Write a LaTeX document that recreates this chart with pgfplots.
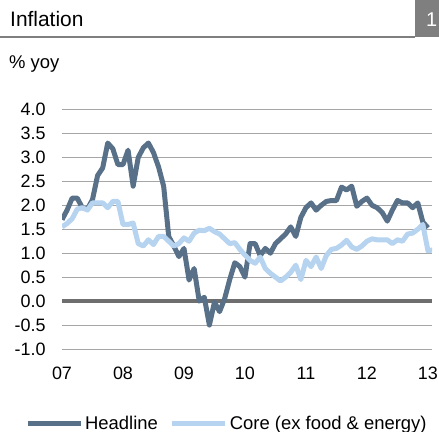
\documentclass[border=0pt]{standalone}
\usepackage{pgfplots}
\pgfplotsset{compat=1.18}
\usepackage{pgfplotstable}
\usepackage{fontspec}
\setmainfont{Liberation Sans}
\definecolor{headc}{HTML}{587088}
\definecolor{corec}{HTML}{B6D3F0}
\definecolor{gridc}{HTML}{A6A6A6}
\definecolor{zeroc}{HTML}{6E6E6E}
\definecolor{boxc}{HTML}{7F7F7F}

\pgfplotstableread{
m v
0 1.70
1 1.90
2 2.15
3 2.15
4 1.95
5 1.92
6 2.12
7 2.62
8 2.78
9 3.30
10 3.18
11 2.85
12 2.85
13 3.15
14 2.40
15 3.00
16 3.20
17 3.30
18 3.10
19 2.80
20 2.40
21 1.35
22 1.15
23 0.93
24 1.10
25 0.44
26 0.68
27 0.00
28 0.08
29 -0.50
30 -0.02
31 -0.22
32 0.05
33 0.45
34 0.80
35 0.72
36 0.50
37 1.20
38 1.20
39 0.95
40 1.10
41 1.00
42 1.20
43 1.30
44 1.40
45 1.55
46 1.35
47 1.75
48 1.95
49 2.05
50 1.90
51 2.00
52 2.08
53 2.10
54 2.10
55 2.38
56 2.32
57 2.40
58 1.98
59 2.08
60 2.15
61 2.00
62 1.95
63 1.85
64 1.67
65 1.90
66 2.10
67 2.05
68 2.05
69 1.95
70 2.05
71 1.65
72 1.53
}\headline

\pgfplotstableread{
m v
0 1.55
1 1.62
2 1.72
3 1.92
4 1.95
5 1.90
6 2.05
7 2.05
8 2.05
9 1.95
10 2.08
11 2.08
12 1.60
13 1.60
14 1.63
15 1.20
16 1.15
17 1.28
18 1.18
19 1.35
20 1.35
21 1.25
22 1.15
23 1.20
24 1.32
25 1.25
26 1.42
27 1.48
28 1.47
29 1.52
30 1.45
31 1.40
32 1.30
33 1.20
34 1.22
35 1.08
36 0.96
37 0.85
38 0.79
39 0.92
40 0.68
41 0.58
42 0.50
43 0.42
44 0.50
45 0.60
46 0.75
47 0.45
48 0.85
49 0.72
50 0.92
51 0.68
52 0.95
53 1.08
54 1.10
55 1.17
56 1.27
57 1.13
58 1.08
59 1.15
60 1.25
61 1.30
62 1.28
63 1.28
64 1.28
65 1.20
66 1.28
67 1.25
68 1.40
69 1.42
70 1.50
71 1.60
72 1.05
73 1.07
}\core

\begin{document}
\begin{tikzpicture}
\useasboundingbox (0bp,0bp) rectangle (439bp,432bp);
% title bar
\fill[boxc] (415bp,395bp) rectangle (439bp,432bp);
\draw[boxc, line width=1.5bp] (0bp,395bp) -- (415bp,395bp);
\node[anchor=base west, inner sep=0pt, font=\fontsize{21}{25}\selectfont] at (10bp,405bp) {Inflation};
\node[anchor=base west, inner sep=0pt, font=\fontsize{20}{24}\selectfont, text=white] at (426bp,405bp) {1};
\node[anchor=base west, inner sep=0pt, font=\fontsize{18.5}{22}\selectfont] at (9bp,363.5bp) {\% yoy};
\begin{axis}[
  at={(62bp,83bp)}, anchor=south west,
  width=370bp, height=239.5bp, scale only axis,
  xmin=0, xmax=72.8, ymin=-1, ymax=4,
  axis line style={draw=none},
  tick style={draw=none},
  major tick length=0pt,
  ytick={-1,-0.5,0,0.5,1,1.5,2,2.5,3,3.5,4},
  yticklabels={-1.0,-0.5,0.0,0.5,1.0,1.5,2.0,2.5,3.0,3.5,4.0},
  xtick={0,12,24,36,48,60,72},
  xticklabels={07,08,09,10,11,12,13},
  ymajorgrids,
  grid style={gridc, line width=1bp},
  extra y ticks={0},
  extra y tick labels={},
  extra y tick style={grid style={zeroc, line width=4bp}},
  ticklabel style={font=\fontsize{18}{21}\selectfont},
  yticklabel style={anchor=east, xshift=-13bp},
  xticklabel style={anchor=base, yshift=-30bp},
  legend columns=2,
  legend style={at={(axis description cs:-0.1,-0.31)}, anchor=west, draw=none, fill=none,
     inner sep=0pt, font=\fontsize{18.5}{22}\selectfont,
     /tikz/every even column/.append style={column sep=10bp}},
  legend image code/.code={\draw[#1, line width=5bp] (0bp,0bp) -- (53bp,0bp);},
]
\addplot[headc, line width=5bp, line join=round] table[x=m,y=v] {\headline};
\addlegendentry{Headline}
\addplot[corec, line width=5bp, line join=round] table[x=m,y=v] {\core};
\addlegendentry{Core (ex food \& energy)}
\end{axis}
\end{tikzpicture}
\end{document}
